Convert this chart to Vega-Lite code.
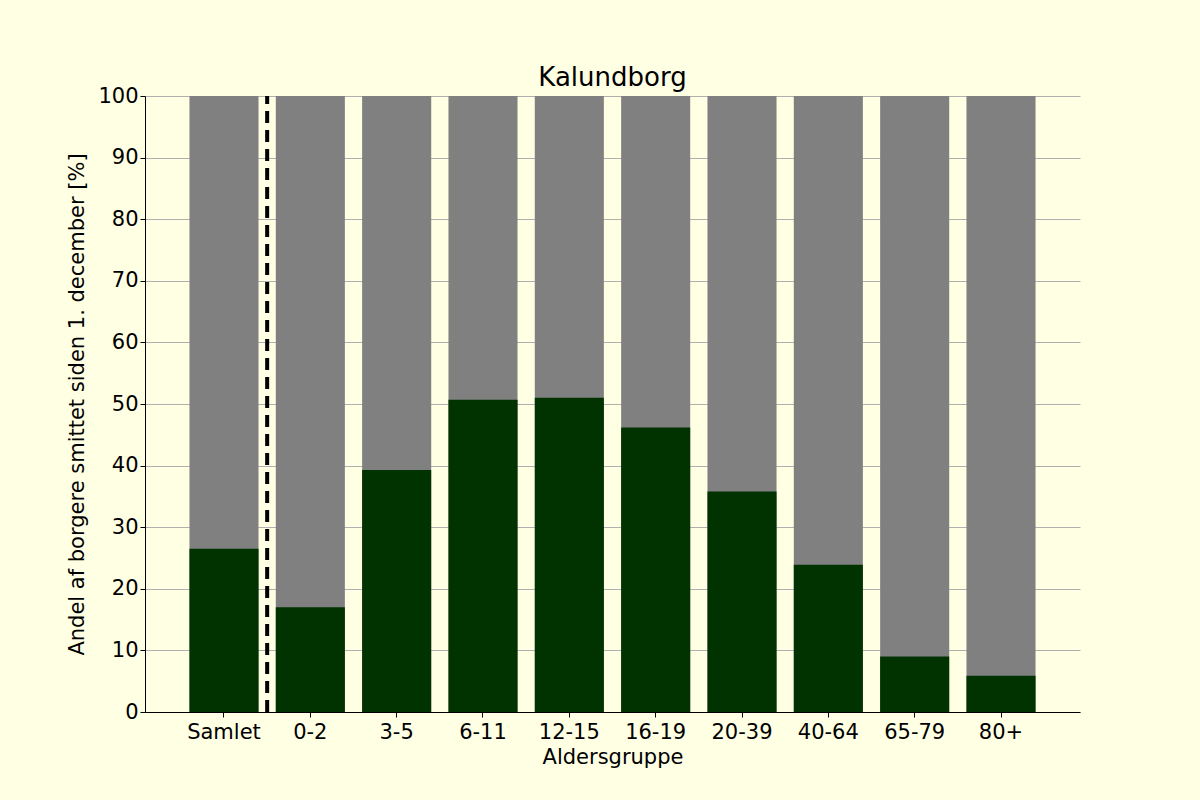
{
  "$schema": "https://vega.github.io/schema/vega-lite/v6.json",
  "width": 935,
  "height": 616,
  "autosize": "none",
  "padding": {"left": 145, "top": 96, "right": 120, "bottom": 88},
  "background": "#ffffe4",
  "config": {
    "view": {"stroke": null},
    "font": "DejaVu Sans",
    "axis": {"labelFont": "DejaVu Sans", "titleFont": "DejaVu Sans", "labelFontSize": 21, "titleFontSize": 21, "titleFontWeight": "normal", "labelColor": "black", "titleColor": "black", "domainColor": "black", "tickColor": "black", "tickSize": 5}
  },
  "title": {"text": "Kalundborg", "fontSize": 26, "fontWeight": "normal", "font": "DejaVu Sans", "offset": -6},
  "data": {
    "values": [
      {"group": "Samlet", "value": 26.5},
      {"group": "0-2", "value": 17.0},
      {"group": "3-5", "value": 39.3},
      {"group": "6-11", "value": 50.7},
      {"group": "12-15", "value": 51.0},
      {"group": "16-19", "value": 46.2},
      {"group": "20-39", "value": 35.8},
      {"group": "40-64", "value": 23.9},
      {"group": "65-79", "value": 9.0},
      {"group": "80+", "value": 5.9}
    ]
  },
  "encoding": {
    "x": {
      "field": "group", "type": "nominal", "sort": null, "title": "Aldersgruppe",
      "scale": {"paddingInner": 0.2, "paddingOuter": 0.515},
      "axis": {"labelAngle": 0, "grid": false, "titlePadding": 4, "labelPadding": 4}
    }
  },
  "layer": [
    {
      "mark": {"type": "bar", "color": "#808080"},
      "encoding": {
        "y": {"datum": 100, "type": "quantitative", "scale": {"domain": [0, 100]},
          "title": "Andel af borgere smittet siden 1. december [%]",
          "axis": {"tickCount": 10, "grid": true, "gridColor": "#b0b0b0", "titlePadding": 10}}
      }
    },
    {
      "mark": {"type": "bar", "color": "#003300"},
      "encoding": {"y": {"field": "value", "type": "quantitative", "title": "Andel af borgere smittet siden 1. december [%]"}}
    },
    {
      "transform": [{"filter": "datum.group == 'Samlet'"}],
      "mark": {"type": "rule", "color": "black", "strokeWidth": 4, "strokeDash": [12, 7]},
      "encoding": {"x": {"field": "group", "type": "nominal", "sort": null, "bandPosition": 1.125}, "y": {"datum": 0}, "y2": {"datum": 100}}
    }
  ]
}
